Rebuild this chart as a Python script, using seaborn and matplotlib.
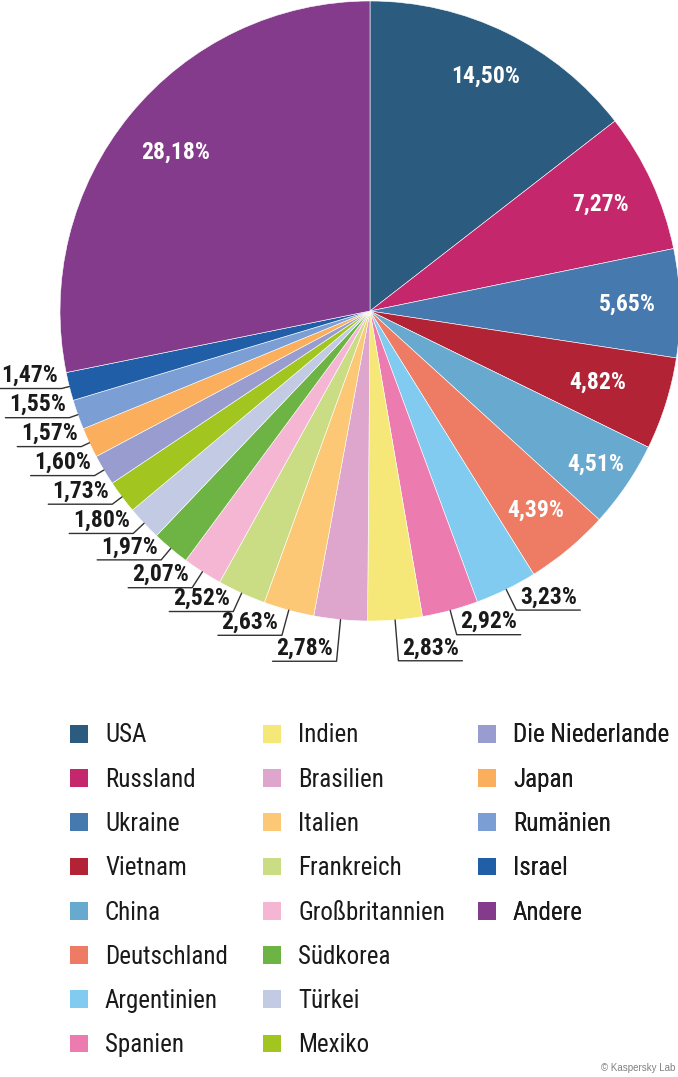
import numpy as np
import matplotlib
matplotlib.use('Agg')
import matplotlib.pyplot as plt
import seaborn as sns
from matplotlib import font_manager
from matplotlib.patches import Patch

# data
countries = ['USA', 'Russland', 'Ukraine', 'Vietnam', 'China', 'Deutschland',
             'Argentinien', 'Spanien', 'Indien', 'Brasilien', 'Italien',
             'Frankreich', 'Großbritannien', 'Südkorea', 'Türkei', 'Mexiko',
             'Die Niederlande', 'Japan', 'Rumänien', 'Israel', 'Andere']
shares = [14.50, 7.27, 5.65, 4.82, 4.51, 4.39, 3.23, 2.92, 2.83, 2.78, 2.63,
          2.52, 2.07, 1.97, 1.80, 1.73, 1.60, 1.57, 1.55, 1.47, 28.18]
colors = ['#2b5c80', '#c4276b', '#4679ae', '#b32336', '#68a9d0', '#ee7b63',
          '#80cbef', '#ec7bb0', '#f5e878', '#dea5cd', '#fdc875', '#cbdd84',
          '#f5b6d3', '#6db444', '#c2cae4', '#a3c520', '#999ccf', '#fbae5b',
          '#7b9fd4', '#215ea8', '#843b8c']

# label layout (fraction of radius)
inside_r = {'USA': 0.845, 'Russland': 0.82, 'Ukraine': 0.83, 'Vietnam': 0.77,
            'China': 0.88, 'Deutschland': 0.835, 'Andere': 0.81}
elbow_r = {'Argentinien': 1.074, 'Spanien': 1.081, 'Indien': 1.132,
           'Brasilien': 1.135, 'Italien': 1.084, 'Frankreich': 1.065,
           'Großbritannien': 1.061, 'Südkorea': 1.048, 'Türkei': 1.048,
           'Mexiko': 1.039, 'Die Niederlande': 1.035, 'Japan': 1.029,
           'Rumänien': 1.029, 'Israel': 1.026}

W, H = 678, 1077
cx, cy, R = 370, H - 311, 310

sns.set_style('white')

# the original uses a condensed face; take one if it is installed
fonts = font_manager.fontManager.ttflist
names = {f.name for f in fonts}
narrow = [n for n in ['Liberation Sans Narrow', 'Roboto Condensed',
                      'Open Sans Condensed', 'Noto Sans Condensed',
                      'DejaVu Sans Condensed'] if n in names]
if narrow:
    plt.rcParams['font.family'] = [narrow[0], 'DejaVu Sans']
    lab_fs, leg_fs = 17, 18
elif any(f.name == 'DejaVu Sans' and f.stretch == 'condensed' for f in fonts):
    plt.rcParams['font.family'] = ['DejaVu Sans']
    plt.rcParams['font.stretch'] = 'condensed'
    lab_fs, leg_fs = 15, 16.5
else:
    plt.rcParams['font.family'] = ['DejaVu Sans']
    lab_fs, leg_fs = 13.5, 14

fig = plt.figure(figsize=(W / 100, H / 100), dpi=100)
ax = fig.add_axes([0, 0, 1, 1])

wedges, _ = ax.pie(shares, colors=colors, startangle=90, counterclock=False,
                   center=(cx, cy), radius=R,
                   wedgeprops=dict(edgecolor='white', linewidth=0.4))
ax.set_xlim(0, W)
ax.set_ylim(0, H)
ax.set_aspect('equal')
ax.axis('off')

for name, val, w in zip(countries, shares, wedges):
    ang = np.deg2rad((w.theta1 + w.theta2) / 2)
    c, s = np.cos(ang), np.sin(ang)
    txt = f'{val:.2f}'.replace('.', ',') + '%'
    if name in inside_r:
        r = inside_r[name] * R
        ax.text(cx + r * c, cy + r * s, txt, color='white', fontsize=lab_fs,
                weight='bold', ha='center', va='center')
    else:
        re = elbow_r[name] * R
        x0, y0 = cx + R * c, cy + R * s
        x1, y1 = cx + re * c, cy + re * s
        x2 = x1 + (64 if c > 0 else -64)
        ax.plot([x0, x1, x2], [y0, y1, y1], color='#333333', lw=1)
        ax.text((x1 + x2) / 2, y1 + 1.5, txt, ha='center', va='bottom',
                weight='bold', fontsize=lab_fs, color='#1a1a1a')

# legend: three columns (8, 8, 5 entries)
px = leg_fs * 100 / 72
cols = [(0, 8, 70), (8, 16, 263), (16, 21, 478)]
for start, stop, x in cols:
    handles = [Patch(facecolor=colors[i], edgecolor='none') for i in range(start, stop)]
    leg = ax.legend(handles, countries[start:stop], loc='upper left',
                    bbox_to_anchor=(x, H - 723.5), bbox_transform=ax.transData,
                    frameon=False, fontsize=leg_fs, handlelength=18 / px,
                    handleheight=18 / px, handletextpad=17 / px,
                    labelspacing=0.81, borderpad=0, borderaxespad=0)
    for t in leg.get_texts():
        t.set_color('#1a1a1a')
    ax.add_artist(leg)

ax.text(675, H - 1068, '© Kaspersky Lab', ha='right', va='center',
        fontsize=7, color='#808080', family=['Liberation Sans', 'DejaVu Sans'])

fig.savefig('out.png', dpi=100)
